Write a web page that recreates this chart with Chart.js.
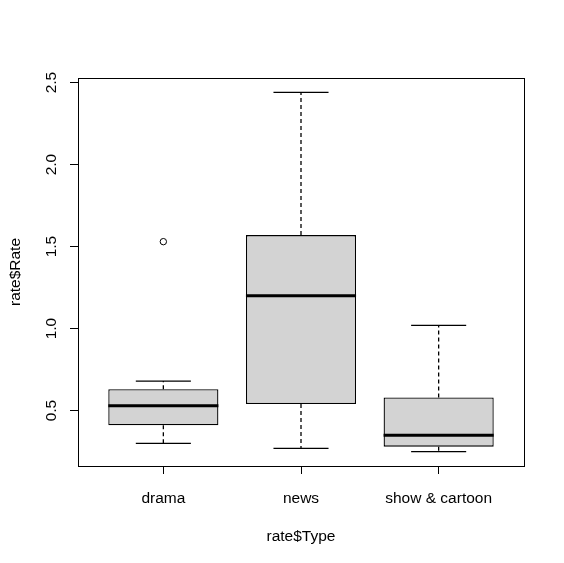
<!DOCTYPE html>
<html>
<head>
<meta charset="utf-8">
<script src="https://cdn.jsdelivr.net/npm/chart.js@4.4.0/dist/chart.umd.min.js"></script>
<style>
  body { margin: 0; background: #fff; }
  canvas { display: block; }
</style>
</head>
<body>
<canvas id="boxChart" width="564" height="563"></canvas>
<script>
// Boxplot of rate$Rate by rate$Type
const categories = ['drama', 'news', 'show & cartoon'];
const whiskerLow = [0.30, 0.27, 0.25];
const lowerQuartile = [0.41, 0.54, 0.28];
const medians = [0.53, 1.20, 0.35];
const upperQuartile = [0.63, 1.57, 0.58];
const whiskerHigh = [0.68, 2.44, 1.02];
const outlierGroup = [1];
const outlierValues = [1.53];
const yTicks = [0.5, 1.0, 1.5, 2.0, 2.5];

// axis limits (R pads the data range by 4%)
const xMin = 0.38, xMax = 3.62;
const yMin = 0.162, yMax = 2.528;

const boxHalf = 0.4;
const capHalf = 0.2;

Chart.defaults.font.family = "'Liberation Sans', Arial, sans-serif";
Chart.defaults.font.size = 15.5;
Chart.defaults.color = '#000';

// build segment lists, null y breaks the line
const whiskerPoints = [];
const capPoints = [];
const medianPoints = [];
categories.forEach((c, i) => {
    const x = i + 1;
    whiskerPoints.push({x: x, y: upperQuartile[i]}, {x: x, y: whiskerHigh[i]}, {x: x, y: null});
    whiskerPoints.push({x: x, y: lowerQuartile[i]}, {x: x, y: whiskerLow[i]}, {x: x, y: null});
    capPoints.push({x: x - capHalf, y: whiskerHigh[i]}, {x: x + capHalf, y: whiskerHigh[i]}, {x: x, y: null});
    capPoints.push({x: x - capHalf, y: whiskerLow[i]}, {x: x + capHalf, y: whiskerLow[i]}, {x: x, y: null});
    medianPoints.push({x: x - boxHalf, y: medians[i]}, {x: x + boxHalf, y: medians[i]}, {x: x, y: null});
});

// frame round the plot region
const framePlugin = {
    id: 'frame',
    afterDraw(chart) {
        const a = chart.chartArea;
        const ctx = chart.ctx;
        ctx.save();
        ctx.strokeStyle = '#000';
        ctx.lineWidth = 1;
        ctx.strokeRect(Math.round(a.left) + 0.5, Math.round(a.top) + 0.5,
            Math.round(a.right - a.left), Math.round(a.bottom - a.top));
        ctx.restore();
    }
};

const ctx = document.getElementById('boxChart').getContext('2d');

new Chart(ctx, {
    type: 'bar',
    data: {
        datasets: [{
            type: 'scatter',
            data: outlierGroup.map((g, i) => ({x: g, y: outlierValues[i]})),
            pointStyle: 'circle',
            pointRadius: 3.2,
            backgroundColor: 'rgba(0,0,0,0)',
            borderColor: '#000',
            borderWidth: 1,
            order: 0
        }, {
            type: 'line',
            data: medianPoints,
            borderColor: '#000',
            borderWidth: 3,
            pointRadius: 0,
            spanGaps: false,
            fill: false,
            order: 1
        }, {
            type: 'line',
            data: capPoints,
            borderColor: '#000',
            borderWidth: 1.3,
            pointRadius: 0,
            spanGaps: false,
            fill: false,
            order: 2
        }, {
            type: 'line',
            data: whiskerPoints,
            borderColor: '#000',
            borderWidth: 1.3,
            borderDash: [4, 3],
            pointRadius: 0,
            spanGaps: false,
            fill: false,
            order: 3
        }, {
            type: 'bar',
            data: categories.map((c, i) => ({x: i + 1, y: [lowerQuartile[i], upperQuartile[i]]})),
            backgroundColor: '#d3d3d3',
            borderColor: '#000',
            borderWidth: 1.3,
            borderSkipped: false,
            barPercentage: 0.8,
            categoryPercentage: 1,
            order: 4
        }]
    },
    options: {
        responsive: false,
        animation: false,
        layout: {
            padding: { left: 0, right: 40, top: 78, bottom: 0 }
        },
        plugins: {
            legend: { display: false },
            tooltip: { enabled: false }
        },
        scales: {
            x: {
                type: 'linear',
                min: xMin,
                max: xMax,
                offset: false,
                afterBuildTicks: function(scale) {
                    scale.ticks = categories.map((c, i) => ({value: i + 1}));
                },
                afterFit: function(scale) {
                    scale.height = 97;
                },
                ticks: {
                    padding: 15,
                    maxRotation: 0,
                    autoSkip: false,
                    callback: function(value) {
                        return categories[value - 1];
                    }
                },
                grid: {
                    offset: false,
                    drawOnChartArea: false,
                    drawTicks: true,
                    tickLength: 8,
                    color: '#000'
                },
                border: { display: true, color: '#000' },
                title: {
                    display: true,
                    text: 'rate$Type',
                    padding: { top: 0, bottom: 17 }
                }
            },
            y: {
                type: 'linear',
                min: yMin,
                max: yMax,
                afterBuildTicks: function(scale) {
                    scale.ticks = yTicks.map(v => ({value: v}));
                },
                afterFit: function(scale) {
                    scale.width = 78;
                },
                ticks: {
                    padding: 8,
                    minRotation: 90,
                    maxRotation: 90,
                    crossAlign: 'center',
                    autoSkip: false,
                    callback: function(value) {
                        return value.toFixed(1);
                    }
                },
                grid: {
                    drawOnChartArea: false,
                    drawTicks: true,
                    tickLength: 8,
                    color: '#000'
                },
                border: { display: true, color: '#000' },
                title: {
                    display: true,
                    text: 'rate$Rate',
                    padding: { top: 6, bottom: 0 }
                }
            }
        }
    },
    plugins: [framePlugin]
});
</script>
</body>
</html>
